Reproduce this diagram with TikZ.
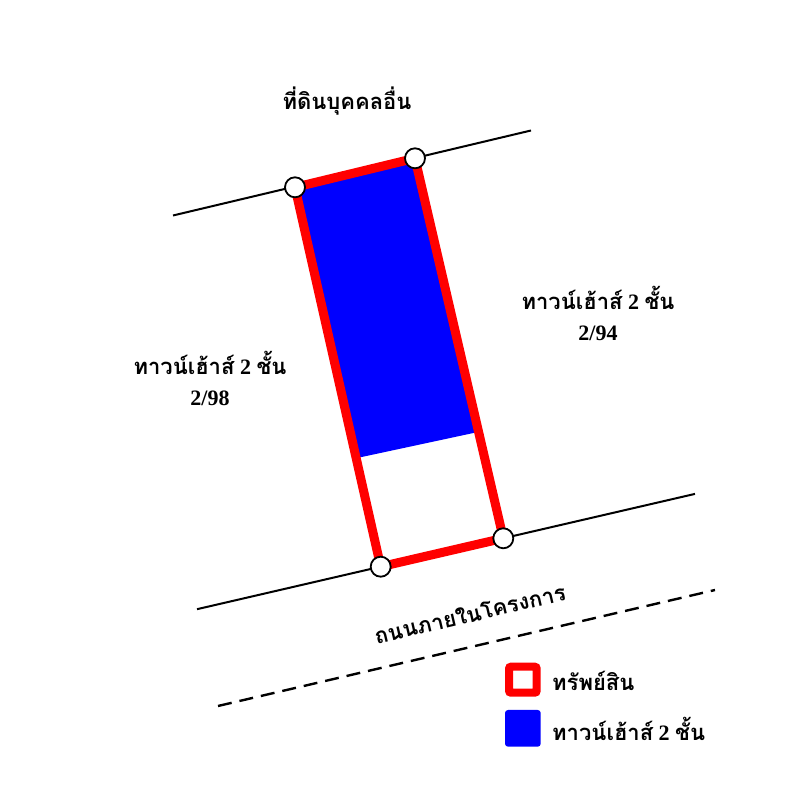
\documentclass[tikz,border=0pt]{standalone}
\usepackage{fontspec}
\setmainfont{Liberation Serif}
\newfontfamily\thaifont[Script=Thai]{Loma}
\usetikzlibrary{calc}
\newcommand{\thtxt}[1]{{\thaifont #1}}
\tikzset{
  boundline/.style={draw=black,line width=2pt},
  roadline/.style={draw=black,line width=2.4pt,dash pattern=on 14pt off 8pt},
  parcel/.style={draw=plotRed,line width=9pt,line join=miter},
  corner/.style={circle,draw=black,fill=white,line width=1.8pt,minimum size=20pt,inner sep=0pt},
  label/.style={align=center,font=\fontsize{22}{31}\selectfont\bfseries,inner sep=0pt}
}
\begin{document}
\begin{tikzpicture}[x=1pt,y=1pt]
\definecolor{plotRed}{RGB}{255,0,0}
\definecolor{plotBlue}{RGB}{0,0,255}
\path[use as bounding box,fill=white] (0,0) rectangle (800,800);

% boundary lines
\coordinate (topW) at (173.0,584.5);
\coordinate (topE) at (531.0,669.5);
\coordinate (botW) at (197.0,190.8);
\coordinate (botE) at (695.0,306.1);
\coordinate (dashW) at (218.0, 94.0);
\coordinate (dashE) at (715.0,210.0);

\path[boundline] (topW) -- (topE);
\path[boundline] (botW) -- (botE);
\path[roadline] (dashW) -- (dashE);

% parcel corners
\coordinate (pA) at (295.0,612.7);
\coordinate (pB) at (415.0,641.7);
\coordinate (pC) at (380.7,233.3);
\coordinate (pD) at (503.3,261.7);
\coordinate (pF) at ($(pA)!0.714!(pC)$);
\coordinate (pE) at ($(pB)!0.72!(pD)$);

\path[fill=plotBlue] (pA) -- (pB) -- (pE) -- (pF) -- cycle;
\path[parcel] (pA) -- (pB) -- (pD) -- (pC) -- cycle;

\node[corner] (cA) at (pA) {};
\node[corner] (cB) at (pB) {};
\node[corner] (cC) at (pC) {};
\node[corner] (cD) at (pD) {};

% labels
\node[label] (lblTop) at (347.0,699.0) {\thtxt{ที่ดินบุคคลอื่น}};
\node[label] (lblEast) at (598.0,487.0) {\thtxt{ทาวน์เฮ้าส์} 2 \thtxt{ชั้น}\\2/94};
\node[label] (lblWest) at (210.0,422.0) {\thtxt{ทาวน์เฮ้าส์} 2 \thtxt{ชั้น}\\2/98};
\node[label,rotate=13.1] (lblRoad) at (470.0,186.0) {\thtxt{ถนนภายในโครงการ}};

% legend
\path[draw=plotRed,line width=8pt,rounded corners=2pt] (509.0,107.3) rectangle (536.7,133.3);
\path[fill=plotBlue,rounded corners=3pt] (505.0,53.3) rectangle (540.7,90.0);
\node[label,anchor=west] (legAsset) at (552.0,119.0) {\thtxt{ทรัพย์สิน}};
\node[label,anchor=west] (legHouse) at (552.0,71.0) {\thtxt{ทาวน์เฮ้าส์} 2 \thtxt{ชั้น}};
\end{tikzpicture}
\end{document}
